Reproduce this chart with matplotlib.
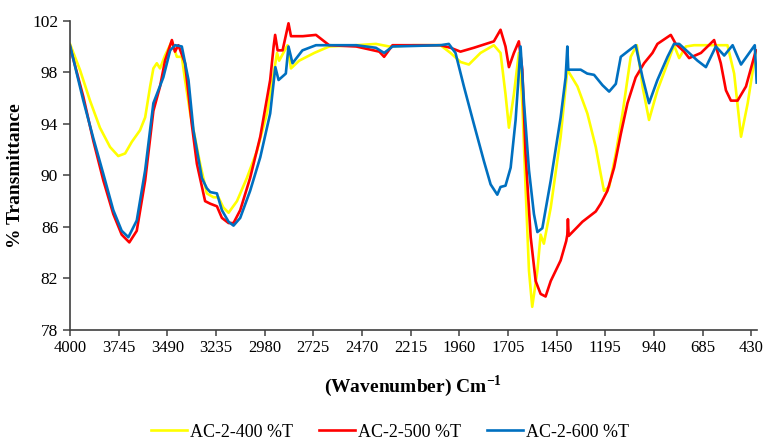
import matplotlib
matplotlib.use('Agg')
import matplotlib.pyplot as plt

plt.rcParams['font.family'] = ['Liberation Serif', 'DejaVu Serif']
plt.rcParams['mathtext.fontset'] = 'custom'
plt.rcParams['mathtext.rm'] = 'Liberation Serif'
plt.rcParams['mathtext.bf'] = 'Liberation Serif:bold'

# AC-2-400 %T
wn_400 = [4000, 3948, 3895, 3843, 3790, 3747, 3711, 3676, 3633, 3606, 3580, 3563,
          3545, 3528, 3502, 3466, 3440, 3414, 3397, 3370, 3318, 3283, 3248, 3222,
          3196, 3169, 3125, 3073, 3020, 2968, 2933, 2915, 2904, 2860, 2842, 2799,
          2720, 2642, 2500, 2397, 2327, 2200, 2059, 2006, 1954, 1910, 1849, 1779,
          1744, 1718, 1700, 1674, 1648, 1630, 1613, 1595, 1578, 1551, 1534, 1517,
          1481, 1429, 1394, 1341, 1289, 1245, 1219, 1202, 1175, 1140, 1105, 1062,
          1030, 1000, 966, 922, 869, 835, 808, 773, 730, 555, 520, 484, 449, 406]
t_400 = [100.2, 98.2, 95.8, 93.7, 92.2, 91.5, 91.7, 92.6, 93.5, 94.5, 96.9, 98.3,
         98.7, 98.3, 99.3, 100.4, 99.2, 99.2, 97.4, 94.8, 90.9, 88.6, 88.3, 88.3,
         87.5, 87.1, 88.0, 89.8, 91.9, 94.8, 97.9, 99.5, 98.9, 100.1, 98.3, 98.9,
         99.5, 100.0, 100.1, 100.2, 100.0, 100.1, 100.1, 99.5, 98.8, 98.6, 99.5, 100.1,
         99.5, 96.3, 93.7, 96.3, 99.5, 95.6, 89.1, 82.6, 79.8, 82.6, 85.4, 84.7,
         87.5, 93.0, 98.2, 96.9, 94.8, 92.2, 90.1, 88.8, 89.1, 91.7, 94.8, 99.2,
         100.1, 96.9, 94.3, 96.6, 98.7, 100.1, 99.1, 100.0, 100.1, 100.1, 97.9, 93.0, 95.6, 99.7]

# AC-2-500 %T
wn_500 = [4000, 3930, 3878, 3825, 3773, 3729, 3689, 3650, 3606, 3563, 3528, 3502,
          3466, 3450, 3432, 3397, 3362, 3335, 3292, 3265, 3230, 3204, 3169, 3143,
          3108, 3056, 3003, 2951, 2933, 2925, 2912, 2886, 2855, 2842, 2780, 2711,
          2642, 2500, 2379, 2354, 2310, 2059, 2006, 1954, 1884, 1779, 1744, 1718,
          1700, 1674, 1648, 1630, 1613, 1586, 1560, 1534, 1508, 1481, 1429, 1400,
          1394, 1391, 1387, 1341, 1315, 1280, 1245, 1219, 1184, 1149, 1114, 1079,
          1036, 992, 948, 922, 852, 826, 782, 756, 694, 625, 590, 563, 537, 502,
          458, 406]
t_500 = [100.0, 96.1, 92.7, 89.6, 87.0, 85.4, 84.8, 85.7, 89.6, 95.0, 96.9, 98.9,
         100.5, 99.6, 100.1, 98.7, 94.0, 90.9, 88.0, 87.8, 87.6, 86.7, 86.3, 86.3,
         87.3, 89.8, 93.0, 97.4, 100.0, 100.9, 99.7, 99.7, 101.8, 100.8, 100.8, 100.9,
         100.1, 100.0, 99.6, 99.2, 100.1, 100.1, 99.9, 99.6, 99.9, 100.4, 101.3, 100.0,
         98.4, 99.5, 100.4, 98.2, 91.7, 85.2, 81.8, 80.8, 80.6, 81.8, 83.4, 84.9,
         85.4, 86.6, 85.3, 86.0, 86.4, 86.8, 87.2, 87.8, 88.8, 90.6, 93.2, 95.6,
         97.6, 98.7, 99.5, 100.2, 100.9, 100.2, 99.6, 99.1, 99.5, 100.5, 98.7, 96.6, 95.8, 95.8,
         96.9, 99.7]

# AC-2-600 %T
wn_600 = [4000, 3930, 3878, 3825, 3773, 3729, 3694, 3650, 3606, 3563, 3511, 3475,
          3449, 3414, 3379, 3353, 3309, 3283, 3265, 3230, 3204, 3169, 3143, 3108,
          3056, 3003, 2951, 2924, 2907, 2869, 2855, 2834, 2782, 2711, 2500, 2397,
          2354, 2310, 2059, 2015, 1980, 1936, 1884, 1831, 1796, 1761, 1744, 1718,
          1691, 1665, 1639, 1621, 1595, 1569, 1551, 1525, 1481, 1429, 1403, 1394,
          1389, 1324, 1290, 1254, 1210, 1175, 1140, 1114, 1071, 1036, 1000, 966,
          922, 869, 835, 808, 756, 712, 668, 616, 572, 528, 484, 412, 402]
t_600 = [100.1, 95.8, 92.9, 90.1, 87.3, 85.7, 85.2, 86.5, 90.4, 95.6, 97.6, 99.7,
         100.1, 100.0, 97.4, 93.5, 89.8, 89.0, 88.7, 88.6, 87.3, 86.4, 86.1, 86.7,
         88.8, 91.4, 94.8, 98.4, 97.4, 97.9, 100.0, 98.7, 99.7, 100.1, 100.1, 99.9,
         99.5, 100.0, 100.1, 100.2, 99.5, 96.9, 94.0, 91.1, 89.3, 88.5, 89.1, 89.2,
         90.6, 94.3, 100.0, 95.6, 90.4, 87.0, 85.6, 85.9, 89.6, 94.5, 97.6, 100.0,
         98.2, 98.2, 97.9, 97.8, 97.0, 96.5, 97.1, 99.2, 99.7, 100.1, 97.6, 95.6,
         97.4, 99.2, 100.2, 100.2, 99.5, 98.9, 98.4, 100.0, 99.3, 100.1, 98.6, 100.1, 97.2]

x_ticks = [4000, 3745, 3490, 3235, 2980, 2725, 2470, 2215, 1960, 1705, 1450, 1195, 940, 685, 430]
y_ticks = [78, 82, 86, 90, 94, 98, 102]

fig = plt.figure(figsize=(7.63, 4.41), dpi=100)
ax = fig.add_axes([0.0917, 0.2517, 0.9005, 0.7013])

ax.plot(wn_400, t_400, color='#FFFF00', lw=1.9, label='AC-2-400 %T')
ax.plot(wn_500, t_500, color='#FF0000', lw=1.9, label='AC-2-500 %T')
ax.plot(wn_600, t_600, color='#0070C0', lw=1.9, label='AC-2-600 %T')

ax.set_xlim(4000, 400)
ax.set_ylim(78, 102)
ax.set_xticks(x_ticks)
ax.set_yticks(y_ticks)
ax.tick_params(axis='x', labelsize=12, length=4, direction='out', width=1.1, color='#404040')
ax.tick_params(axis='y', labelsize=12.5, length=5, direction='out', width=1.1, color='#404040')

for side in ['top', 'right']:
    ax.spines[side].set_visible(False)
for side in ['left', 'bottom']:
    ax.spines[side].set_color('#404040')
    ax.spines[side].set_linewidth(1.2)

ax.set_xlabel(r'(Wavenumber) Cm$^{\mathbf{-1}}$', fontsize=14, fontweight='bold', labelpad=12)
ax.set_ylabel('% Transmittance', fontsize=14, fontweight='bold', labelpad=6)

fig.legend(loc='center', bbox_to_anchor=(0.511, 0.0204), ncol=3, frameon=False,
           fontsize=13, handlelength=2.0, handletextpad=0.2, columnspacing=1.4)

fig.savefig('out.png', dpi=100)
